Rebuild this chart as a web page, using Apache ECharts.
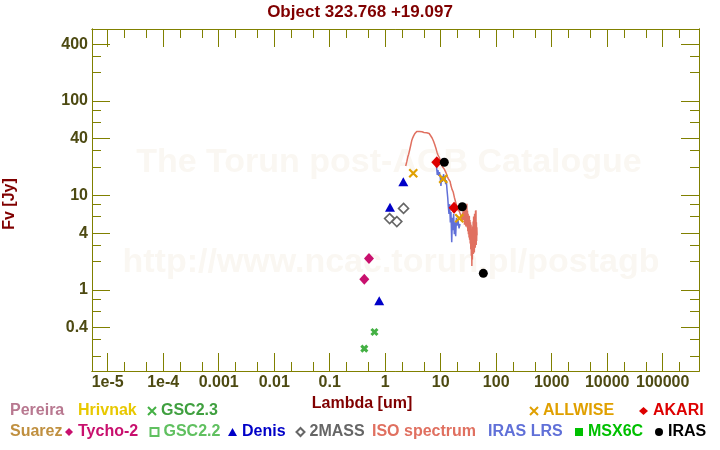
<!DOCTYPE html>
<html><head><meta charset="utf-8">
<script src="https://cdn.jsdelivr.net/npm/echarts@6/dist/echarts.min.js"></script>
<style>html,body{margin:0;padding:0;background:#fff}#c{width:720px;height:450px}</style>
</head><body><div id="c"></div>
<script>
// ---------- Data ----------
const titleText = 'Object 323.768 +19.097';
const xName = 'Lambda [um]';
const yName = 'Fv [Jy]';

const xMajorTicks = [1e-5, 1e-4, 0.001, 0.01, 0.1, 1, 10, 100, 1000, 10000, 100000];
const xTickLabels = ['1e-5', '1e-4', '0.001', '0.01', '0.1', '1', '10', '100', '1000', '10000', '100000'];
const xMinorTicks = [2e-5, 5e-5, 2e-4, 5e-4, 0.002, 0.005, 0.02, 0.05, 0.2, 0.5, 2, 5, 20, 50, 200, 500, 2000, 5000, 20000, 50000, 200000];
const yMajorTicks = [0.4, 1, 4, 10, 40, 100, 400];
const yTickLabels = ['0.4', '1', '4', '10', '40', '100', '400'];
const yMinorTicks = [0.2, 0.3, 0.6, 0.8, 2, 3, 6, 8, 20, 30, 60, 80, 200, 300];

const tycho2Lambda = [0.42, 0.51];
const tycho2Flux = [1.30, 2.16];
const gsc23Lambda = [0.42, 0.64];
const gsc23Flux = [0.24, 0.36];
const denisLambda = [0.78, 1.22, 2.12];
const denisFlux = [0.77, 7.5, 14.0];
const twomassLambda = [1.20, 1.62, 2.14];
const twomassFlux = [5.7, 5.3, 7.3];
const allwiseLambda = [3.2, 11.1, 21.6];
const allwiseFlux = [17.2, 15.0, 5.75];
const akariLambda = [8.5, 17.4];
const akariFlux = [22.5, 7.4];
const irasLambda = [11.6, 24.5, 58.6];
const irasFlux = [22.5, 7.6, 1.5];

const isoLambda = [2.34, 2.45, 2.55, 2.65, 2.75, 2.87, 3.00, 3.12, 3.25, 3.40, 3.55, 3.70, 3.85, 4.00, 4.15, 4.30, 4.45, 4.60, 4.80, 5.00,
  5.20, 5.40, 5.60, 5.80, 6.00, 6.20, 6.40, 6.60, 6.80, 7.00, 7.20, 7.40, 7.60, 7.80, 8.00, 8.30, 8.60, 8.90, 9.20, 9.50,
  9.80, 10.1, 10.4, 10.7, 11.0, 11.3, 11.6, 11.9, 12.2, 12.5, 12.8, 13.1, 13.4, 13.7, 14.0, 14.4, 14.8, 15.2, 15.6, 16.0,
  16.4, 16.8, 17.2, 17.6, 18.0, 18.5, 19.0, 19.5, 20.0, 20.5, 21.0, 21.5, 22.0, 22.5, 23.0, 23.5,
  24.0, 24.4, 24.8, 25.2, 25.6, 26.0, 26.4, 26.8, 27.2, 27.6, 28.0, 28.4, 28.8, 29.2, 29.6, 30.0, 30.4, 30.8, 31.2, 31.6,
  32.0, 32.4, 32.8, 33.2, 33.6, 34.0, 34.4, 34.8, 35.2, 35.6, 36.0, 36.4, 36.8, 37.2, 37.6, 38.0, 38.4, 38.8, 39.2, 39.6,
  40.0, 40.4, 40.8, 41.2, 41.6, 42.0, 42.4, 42.8, 43.2, 43.6, 44.0, 44.4, 44.8, 45.2];
const isoFlux = [20.5, 22.8, 25.5, 27.4, 30.1, 33.6, 37.9, 40.5, 42.8, 45.0, 46.3, 47.6, 48.3, 48.1, 47.5, 48.6, 48.0, 47.2, 47.9, 46.5,
  46.8, 45.7, 46.2, 45.0, 44.8, 45.3, 43.6, 42.9, 42.5, 40.6, 39.4, 37.8, 36.1, 34.7, 33.2, 30.8, 28.6, 27.0, 26.3, 25.1,
  23.4, 22.0, 21.2, 20.3, 19.9, 19.6, 19.0, 18.6, 17.9, 17.2, 16.8, 16.0, 15.6, 15.1, 14.7, 14.5, 14.0, 12.9, 12.4, 11.6,
  11.2, 10.9, 10.2, 9.6, 9.2, 8.6, 8.1, 7.9, 7.3, 7.5, 6.8, 7.2, 6.6, 6.9, 6.2, 6.5,
  6.1, 5.4, 6.6, 5.7, 7.1, 5.5, 6.8, 4.9, 7.4, 5.6, 6.3, 4.7, 7.6, 5.2, 8.2, 4.6, 6.9, 4.2, 6.4, 3.9,
  5.8, 3.6, 6.1, 3.4, 5.5, 3.1, 5.2, 2.7, 4.9, 2.3, 4.4, 1.8, 3.9, 2.1, 4.7, 2.6, 5.3, 2.4, 6.0, 2.9,
  5.1, 2.5, 6.4, 3.2, 5.6, 2.8, 6.9, 3.5, 7.0, 3.0, 5.2, 3.3, 4.6, 3.8];

const lrsLambda = [8.22, 8.45, 8.68, 8.93, 9.2, 9.5, 9.85, 10.1, 10.4, 10.7, 11.0, 11.3, 11.6, 11.9, 12.3, 12.6, 13.0, 13.4, 13.7, 14.1,
  14.5, 14.9, 15.3, 15.8, 16.2, 16.6, 17.1, 17.6, 18.1, 18.6, 19.2, 19.7, 20.5, 21.4, 22.3];
const lrsFlux = [24.9, 19.6, 16.5, 18.6, 16.1, 17.7, 15.3, 12.6, 16.1, 13.9, 15.3, 16.8, 14.6, 16.1, 13.2, 14.6, 11.4, 9.4, 7.7, 6.4,
  8.1, 5.2, 6.7, 3.2, 5.8, 4.3, 6.4, 3.9, 5.2, 3.7, 5.8, 4.8, 5.5, 4.5, 5.0];

// ---------- Layout / style ----------
const FONT = '"Liberation Sans", Arial, sans-serif';
const AXIS_COLOR = '#808000';
const LABEL_COLOR = '#4d4a12';
const NAME_COLOR = '#800000';
const X_LOG_MIN = -5.283, X_LOG_MAX = 5.654;
const Y_LOG_MIN = -0.857, Y_LOG_MAX = 2.762;
const GRID = {left: 92, top: 29, width: 607, height: 342, containLabel: false, outerBoundsMode: 'none'};

const lg = Math.log10;
const pairs = (xs, ys) => xs.map((x, i) => [lg(x), lg(ys[i])]);
const labelFor = (vals, labels) => v => {
  for (let i = 0; i < vals.length; i++) if (Math.abs(lg(vals[i]) - v) < 1e-6) return labels[i];
  return '';
};
const crossPath = 'path://M0,0L10,10M10,0L0,10';

function xAx(gridIndex, position, ticks, len, withLabels) {
  return {
    type: 'value', gridIndex, position, min: X_LOG_MIN, max: X_LOG_MAX,
    axisLine: {show: true, onZero: false, lineStyle: {color: AXIS_COLOR, width: 1}},
    splitLine: {show: false},
    axisTick: {show: true, inside: true, length: len, customValues: ticks.map(lg), lineStyle: {color: AXIS_COLOR, width: 1}},
    axisLabel: withLabels ? {show: true, customValues: xMajorTicks.map(lg), formatter: labelFor(xMajorTicks, xTickLabels),
      fontSize: 16, fontWeight: 'bold', fontFamily: FONT, color: LABEL_COLOR, margin: 4, hideOverlap: false} : {show: false},
    name: withLabels ? xName : '', nameLocation: 'middle', nameGap: 25,
    nameTextStyle: {fontSize: 16, fontWeight: 'bold', fontFamily: FONT, color: NAME_COLOR, padding: [0, 67, 0, 0]}
  };
}
function yAx(gridIndex, position, ticks, len, withLabels) {
  return {
    type: 'value', gridIndex, position, min: Y_LOG_MIN, max: Y_LOG_MAX,
    axisLine: {show: true, onZero: false, lineStyle: {color: AXIS_COLOR, width: 1}},
    splitLine: {show: false},
    axisTick: {show: true, inside: true, length: len, customValues: ticks.map(lg), lineStyle: {color: AXIS_COLOR, width: 1}},
    axisLabel: withLabels ? {show: true, customValues: yMajorTicks.map(lg), formatter: labelFor(yMajorTicks, yTickLabels),
      fontSize: 16, fontWeight: 'bold', fontFamily: FONT, color: LABEL_COLOR, margin: 4, padding: [4, 0, 0, 0]} : {show: false},
    name: withLabels ? yName : '', nameLocation: 'middle', nameGap: 74, nameRotate: 90,
    nameTextStyle: {fontSize: 16, fontWeight: 'bold', fontFamily: FONT, color: NAME_COLOR, padding: [0, 8, 0, 0]}
  };
}

const scatter = (name, data, symbol, size, itemStyle, z) => ({
  type: 'scatter', name, data, symbol, symbolSize: size, itemStyle: Object.assign({opacity: 1}, itemStyle),
  xAxisIndex: 0, yAxisIndex: 0, z: z || 5
});

const series = [
  {type: 'line', name: 'Pereira', data: [], itemStyle: {color: '#b87890'}},
  {type: 'line', name: 'Hrivnak', data: [], itemStyle: {color: '#e8c800'}},
  {type: 'line', name: 'Suarez', data: [], itemStyle: {color: '#c09040'}},
  {type: 'line', name: 'IRAS LRS', data: pairs(lrsLambda, lrsFlux), showSymbol: false, symbol: 'none',
    lineStyle: {color: '#6070d8', width: 1.5}, itemStyle: {color: '#6070d8'}, z: 3},
  {type: 'line', name: 'ISO spectrum', data: pairs(isoLambda, isoFlux), showSymbol: false, symbol: 'none',
    lineStyle: {color: '#e07060', width: 1.5}, itemStyle: {color: '#e07060'}, z: 4},
  scatter('Tycho-2', pairs(tycho2Lambda, tycho2Flux), 'diamond', [10, 11], {color: '#c8106e'}),
  scatter('GSC2.3', pairs(gsc23Lambda, gsc23Flux), crossPath, 6, {color: '#44b044', borderColor: '#44b044', borderWidth: 3}),
  scatter('GSC2.2', [], 'rect', 7, {color: 'none', borderColor: '#60c060', borderWidth: 1.5}),
  scatter('Denis', pairs(denisLambda, denisFlux), 'triangle', [10, 9], {color: '#0000c8'}),
  scatter('2MASS', pairs(twomassLambda, twomassFlux), 'diamond', 10, {color: 'none', borderColor: '#666666', borderWidth: 1.6}),
  scatter('MSX6C', [], 'rect', 7, {color: '#00c000'}),
  scatter('ALLWISE', pairs(allwiseLambda, allwiseFlux), crossPath, 8, {color: '#e0a000', borderColor: '#e0a000', borderWidth: 2.2}),
  scatter('AKARI', pairs(akariLambda, akariFlux), 'diamond', [11, 12], {color: '#dd0000'}, 6),
  scatter('IRAS', pairs(irasLambda, irasFlux), 'circle', 9, {color: '#000000'}, 6)
];

// legend layout: [name, left, top, iconWidth, icon, textColor]
const legendLayout = [
  ['Pereira', 5, 403, 0, 'none', '#b87890'],
  ['Hrivnak', 73, 403, 0, 'none', '#e8c800'],
  ['GSC2.3', 147, 403, 8, crossPath, '#40a040'],
  ['ALLWISE', 529, 403, 8, crossPath, '#e0a000'],
  ['AKARI', 639, 403, 9, 'diamond', '#dd0000'],
  ['Suarez', 5, 424, 0, 'none', '#c09040'],
  ['Tycho-2', 65, 424, 8, 'diamond', '#c8106e'],
  ['GSC2.2', 148, 424, 8, 'rect', '#60c060'],
  ['Denis', 228, 424, 9, 'triangle', '#0000c8'],
  ['2MASS', 294, 424, 8, 'diamond', '#666666'],
  ['ISO spectrum', 367, 424, 0, 'none', '#e07060'],
  ['IRAS LRS', 483, 424, 0, 'none', '#6070d8'],
  ['MSX6C', 575, 424, 8, 'rect', '#00c000'],
  ['IRAS', 655, 424, 8, 'circle', '#000000']
];
const legends = legendLayout.map(([name, left, top, w, icon, color]) => ({
  data: [{name, icon}], left, top, padding: 0, itemWidth: w, itemHeight: 8, itemGap: 0,
  selectedMode: false, orient: 'horizontal',
  textStyle: {color, fontSize: 16, fontWeight: 'bold', fontFamily: FONT}
}));

const option = {
  animation: false,
  backgroundColor: '#ffffff',
  title: {text: titleText, left: 'center', top: 4, padding: 0,
    textStyle: {fontSize: 17, fontWeight: 'bold', fontFamily: FONT, color: NAME_COLOR}},
  graphic: [
    {type: 'text', x: 389, y: 163, z: 0, silent: true,
      style: {text: 'The Torun post-AGB Catalogue', font: 'bold 34px "Liberation Sans", Arial, sans-serif', fill: '#faf7f2', textAlign: 'center', textVerticalAlign: 'middle'}},
    {type: 'text', x: 391, y: 263, z: 0, silent: true,
      style: {text: 'http://www.ncac.torun.pl/postagb', font: 'bold 34px "Liberation Sans", Arial, sans-serif', fill: '#faf7f2', textAlign: 'center', textVerticalAlign: 'middle'}}
  ],
  grid: [Object.assign({}, GRID), Object.assign({}, GRID)],
  xAxis: [xAx(0, 'bottom', xMajorTicks, 18, true), xAx(0, 'top', xMajorTicks, 18, false),
          xAx(1, 'bottom', xMinorTicks, 9, false), xAx(1, 'top', xMinorTicks, 9, false)],
  yAxis: [yAx(0, 'left', yMajorTicks, 18, true), yAx(0, 'right', yMajorTicks, 18, false),
          yAx(1, 'left', yMinorTicks, 9, false), yAx(1, 'right', yMinorTicks, 9, false)],
  legend: legends,
  series
};
const chart = echarts.init(document.getElementById('c'), null, {renderer: 'canvas'});
chart.setOption(option);
</script>
</body></html>
